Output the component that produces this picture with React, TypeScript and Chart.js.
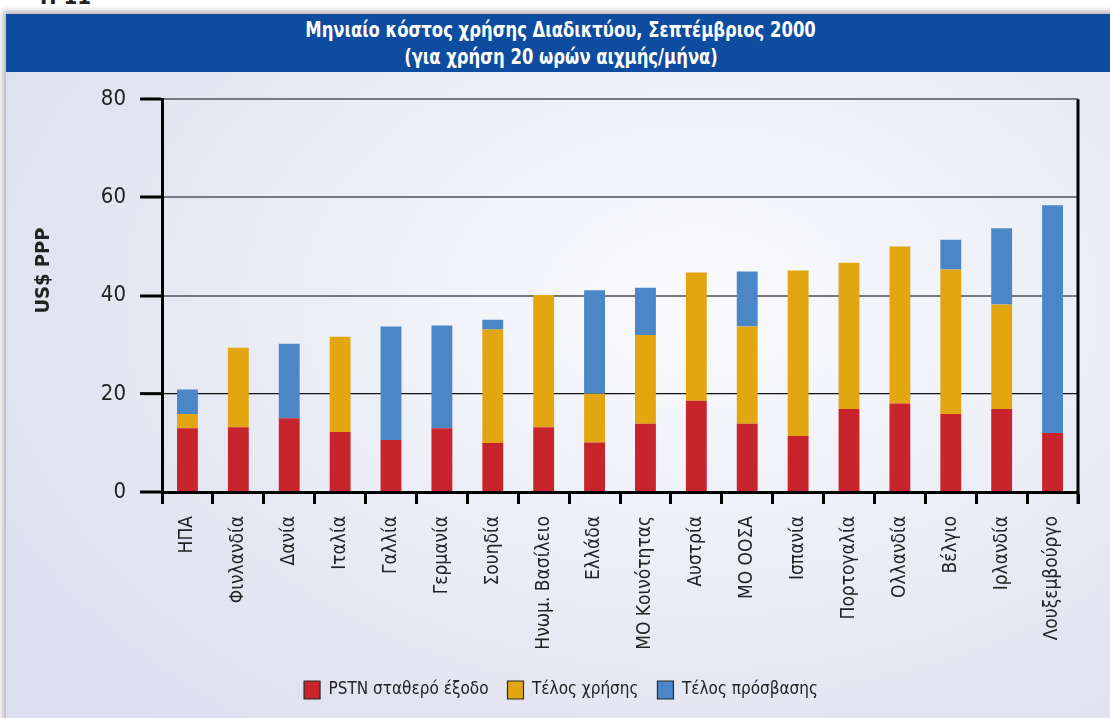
import React, { useEffect, useRef } from "react";
import { Chart, registerables } from "chart.js";

Chart.register(...registerables);

const categories = [
  "ΗΠΑ", "Φινλανδία", "Δανία", "Ιταλία", "Γαλλία", "Γερμανία", "Σουηδία",
  "Ηνωμ. Βασίλειο", "Ελλάδα", "ΜΟ Κοινότητας", "Αυστρία", "ΜΟ ΟΟΣΑ",
  "Ισπανία", "Πορτογαλία", "Ολλανδία", "Βέλγιο", "Ιρλανδία", "Λουξεμβούργο",
];
const pstnFixed = [13.0, 13.2, 15.0, 12.2, 10.6, 13.0, 10.0, 13.2, 10.1, 13.9, 18.6, 13.9, 11.4, 16.9, 18.0, 15.9, 16.9, 12.0];
const usageFee = [2.9, 16.2, 0, 19.4, 0, 0, 23.1, 26.9, 9.9, 18.1, 26.1, 19.8, 33.7, 29.8, 32.0, 29.4, 21.3, 0];
const accessFee = [5.0, 0, 15.2, 0, 23.1, 20.9, 2.0, 0, 21.1, 9.6, 0, 11.2, 0, 0, 0, 6.1, 15.5, 46.4];
const seriesNames = ["PSTN σταθερό έξοδο", "Τέλος χρήσης", "Τέλος πρόσβασης"];
const yTicks = [0, 20, 40, 60, 80];
const titleLines = ["Μηνιαίο κόστος χρήσης Διαδικτύου, Σεπτέμβριος 2000", "(για χρήση 20 ωρών αιχμής/μήνα)"];
const yTitle = "US$ PPP";

const FONT = '"Liberation Sans Narrow", "DejaVu Sans Condensed", "Roboto Condensed", "Liberation Sans", sans-serif';

export default function App() {
  const ref = useRef<HTMLCanvasElement | null>(null);

  useEffect(() => {
    document.body.style.margin = "0";
    const canvas = ref.current;
    if (!canvas) return;
    const rightBorder = {
      id: "rightBorder",
      afterDraw(chart: any) {
        const { ctx, chartArea } = chart;
        ctx.save();
        ctx.strokeStyle = "#000";
        ctx.lineWidth = 3;
        ctx.beginPath();
        ctx.moveTo(chartArea.right, chartArea.top);
        ctx.lineTo(chartArea.right, chartArea.bottom + 12);
        ctx.stroke();
        ctx.restore();
      },
    };
    const chart = new Chart(canvas, {
      type: "bar",
      data: {
        labels: categories,
        datasets: [
          { label: seriesNames[0], data: pstnFixed, backgroundColor: "#c8242c" },
          { label: seriesNames[1], data: usageFee, backgroundColor: "#e2a611" },
          { label: seriesNames[2], data: accessFee, backgroundColor: "#4b87c6" },
        ],
      },
      plugins: [rightBorder],
      options: {
        animation: false,
        responsive: false,
        maintainAspectRatio: false,
        layout: { padding: { left: 44, right: 32, top: 26, bottom: 9 } },
        datasets: { bar: { categoryPercentage: 1, barPercentage: 0.41, borderWidth: 0 } },
        plugins: {
          tooltip: { enabled: false },
          legend: {
            position: "bottom",
            labels: {
              boxWidth: 16,
              boxHeight: 18,
              padding: 19,
              color: "#222",
              font: { family: FONT, size: 17 },
              generateLabels: (ch: any) =>
                Chart.defaults.plugins.legend.labels.generateLabels(ch).map((l: any) => ({
                  ...l,
                  strokeStyle: "#2a2a2a",
                  lineWidth: 1.2,
                })),
            },
          },
        },
        scales: {
          x: {
            stacked: true,
            afterFit: (s: any) => { s.height = 170; },
            grid: {
              offset: true,
              drawOnChartArea: false,
              tickLength: 12,
              tickColor: "#000",
              tickWidth: 3,
            },
            border: { color: "#000", width: 3 },
            ticks: {
              minRotation: 90,
              maxRotation: 90,
              autoSkip: false,
              padding: 12,
              color: "#222",
              font: { family: FONT, size: 19 },
            },
          },
          y: {
            stacked: true,
            min: 0,
            max: 80,
            afterFit: (s: any) => { s.width = 118; },
            afterBuildTicks: (s: any) => { s.ticks = yTicks.map((v) => ({ value: v })); },
            grid: {
              color: (c: any) => (c.tick && c.tick.value === 20 ? "#111" : c.tick && c.tick.value === 0 ? "rgba(0,0,0,0)" : "#77787f"),
              lineWidth: (c: any) => (c.tick && c.tick.value === 20 ? 1.3 : 2),
              tickLength: 22,
              tickColor: "#000",
              tickWidth: 3,
            },
            border: { color: "#000", width: 3 },
            ticks: {
              padding: 14,
              color: "#222",
              font: { family: FONT, size: 22 },
            },
            title: {
              display: true,
              text: "\u00a0\u00a0\u00a0\u00a0\u00a0\u00a0\u00a0\u00a0" + yTitle,
              color: "#222",
              font: { family: FONT, size: 20, weight: "bold" },
              padding: { top: -12, bottom: 0 },
            },
          },
        },
      },
    });
    return () => chart.destroy();
  }, []);

  const titleLine: React.CSSProperties = { display: "inline-block", transform: "scaleX(0.83)", transformOrigin: "center", whiteSpace: "nowrap" };

  return (
    <div style={{ position: "fixed", left: 0, top: 0, width: 1110, height: 718, background: "#fff", overflow: "hidden" }}>
      <div style={{ position: "absolute", left: 40, top: -16, fontFamily: FONT, fontWeight: "bold", fontSize: 22, color: "#222" }}>Π 11</div>
      <div
        style={{
          position: "absolute",
          left: 6,
          top: 14,
          width: 1120,
          height: 720,
          background: "radial-gradient(ellipse 75% 80% at 62% 40%, #fbfbfd 0%, #eef0f8 40%, #e2e5f1 75%, #dcdfee 100%)",
          boxShadow: "-3px -3px 6px rgba(0,0,0,0.3)",
        }}
      />
      <div
        style={{
          position: "absolute",
          left: 6,
          top: 14,
          width: 1110,
          height: 58,
          background: "#0e4c9f",
          color: "#fff",
          fontFamily: FONT,
          fontWeight: "bold",
          fontSize: 22,
          lineHeight: "27px",
          textAlign: "center",
          paddingTop: 2,
          boxSizing: "border-box",
        }}
      >
        <div><span style={titleLine}>{titleLines[0]}</span></div>
        <div><span style={titleLine}>{titleLines[1]}</span></div>
      </div>
      <canvas ref={ref} width={1110} height={646} style={{ position: "absolute", left: 0, top: 72, width: 1110, height: 646 }} />
    </div>
  );
}
